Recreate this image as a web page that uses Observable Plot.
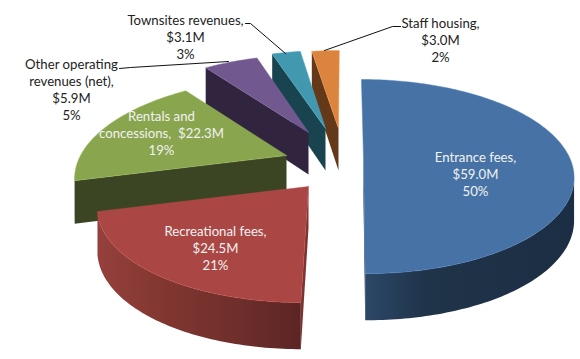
<!DOCTYPE html>
<html><head><meta charset="utf-8">
<style>html,body{margin:0;padding:0;background:#fff}svg{display:block}</style>
<script src="https://cdn.jsdelivr.net/npm/d3@7"></script>
<script src="https://cdn.jsdelivr.net/npm/@observablehq/plot@0.6"></script>
</head><body><div id="chart"></div>
<script>
// Data
const names = ["Entrance fees,", "Recreational fees,", "Rentals and\nconcessions,", "Other operating\nrevenues (net),", "Townsites revenues,", "Staff housing,"];
const values = [59.0, 24.5, 22.3, 5.9, 3.1, 3.0];
const percents = [50, 21, 19, 5, 3, 2];

// Slice styling and pie layout
const topColors = ["#4672a6", "#aa4643", "#89a54e", "#71588f", "#4198af", "#db843d"];
const wallColors = ["#1f3349", "#7c3431", "#3b4523", "#30243f", "#1a4350", "#63391a"];
const explodeX = [18, -37, -59, -37, -20, -7];
const explodeY = [-7, 22, -9, -32, -36, -36];
const centre = [345, 164], Rx = 206, Ry = 93.3, persp = 0.196, depth = 42, depthPersp = 0.1, converge = 0.7;
const labelX = [475, 215, 161, 71, 185, 440];
const labelY = [173, 247, 132, 89, 36, 39];
const labelFill = ["#f2f2f2", "#f2f2f2", "#f2f2f2", "#222", "#222", "#222"];
const leaderX = [[119, 130], [245, 250], [400, 392]];
const leaderY = [[68, 67], [23, 23], [26, 26]];
const leaderSlice = [3, 4, 5];
const leaderTip = [[228, 61], [285, 53], [324, 50]];

const total = d3.sum(values);
const rad = d => d * Math.PI / 180;
let acc = 0;
const slices = values.map((v, i) => {
  const a0 = acc; acc += v / total * 360;
  return {i, a0, a1: acc, ax: centre[0] + explodeX[i], ay: centre[1] + explodeY[i]};
});
function rim(s, deg, drop) {
  const t = rad(deg), c = Math.cos(t), f = 1 / (1 + persp * c);
  return {
    x: s.ax + (s.ax - centre[0]) * (f - 1) * converge + Rx * Math.sin(t) * f,
    y: s.ay - Ry * c * f + (drop ? depth / (1 + depthPersp * c) : 0)
  };
}
const apex = (s, drop) => ({x: s.ax, y: s.ay + (drop ? depth : 0)});
function arc(s, a, b, drop) {
  const n = Math.max(2, Math.ceil(Math.abs(b - a)));
  return d3.range(n + 1).map(k => rim(s, a + (b - a) * k / n, drop));
}
const topFace = s => [apex(s), ...arc(s, s.a0, s.a1), apex(s)];
function radialWall(s) {
  const e = s.i === 0 ? s.a1 : s.a0;
  return [apex(s), apex(s, true), rim(s, e, true), rim(s, e), apex(s)];
}
function outerWall(s) {
  const lim = rad(180) - Math.acos(persp), lo = lim * 180 / Math.PI, hi = 360 - lo;
  const a = Math.max(s.a0, lo), b = Math.min(s.a1, hi);
  if (b <= a) return null;
  return [...arc(s, a, b), ...arc(s, b, a, true)];
}

const defs = () => {
  const d = d3.create("svg:defs");
  const grad = (id, stops) => {
    const g = d.append("linearGradient").attr("id", id).attr("x1", 0).attr("x2", 1).attr("y1", 0).attr("y2", 0);
    stops.forEach(([o, c]) => g.append("stop").attr("offset", o).attr("stop-color", c));
  };
  grad("wall0", [[0, "#2c4767"], [0.3, "#1f3349"], [1, "#1c2e43"]]);
  grad("wall1", [[0, "#96403d"], [0.35, "#80362f"], [0.7, "#6e2e2c"], [1, "#5c2524"]]);
  return d.node();
};
const line = (pts, fill) => Plot.line(pts, {x: "x", y: "y", fill, stroke: "none"});

const marks = [defs];
[5, 4, 3, 2, 0, 1].forEach(i => {
  const s = slices[i];
  marks.push(line(radialWall(s), wallColors[i]));
  const w = outerWall(s);
  if (w) marks.push(line(w, i < 2 ? `url(#wall${i})` : wallColors[i]));
  marks.push(Plot.line(topFace(s), {x: "x", y: "y", fill: topColors[i], stroke: d3.color(topColors[i]).brighter(0.35).formatHex(), strokeWidth: 0.5}));
});
leaderSlice.forEach((sl, j) => {
  const pts = leaderX[j].map((x, k) => ({x, y: leaderY[j][k]}));
  pts.push({x: leaderTip[j][0], y: leaderTip[j][1]});
  marks.push(Plot.line(pts, {x: "x", y: "y", stroke: "#111", strokeWidth: 1}));
});
const labels = names.map((n, i) => {
  const val = "$" + values[i].toFixed(1) + "M";
  return {
    text: (i === 2 ? n + "  " + val : n + "\n" + val) + "\n" + percents[i] + "%",
    x: labelX[i], y: labelY[i], fill: labelFill[i]
  };
});
marks.push(Plot.text(labels, {x: "x", y: "y", text: "text", fill: "fill", lineHeight: 1.29, fontSize: 13.2, textAnchor: "middle"}));

const chart = Plot.plot({
  width: 580, height: 359, margin: 0,
  style: {background: "#fff", fontFamily: "Lato, 'Open Sans', sans-serif"},
  x: {domain: [0, 580], axis: null},
  y: {domain: [359, 0], axis: null},
  color: {type: "identity"},
  marks
});
document.getElementById("chart").append(chart);
</script></body></html>
